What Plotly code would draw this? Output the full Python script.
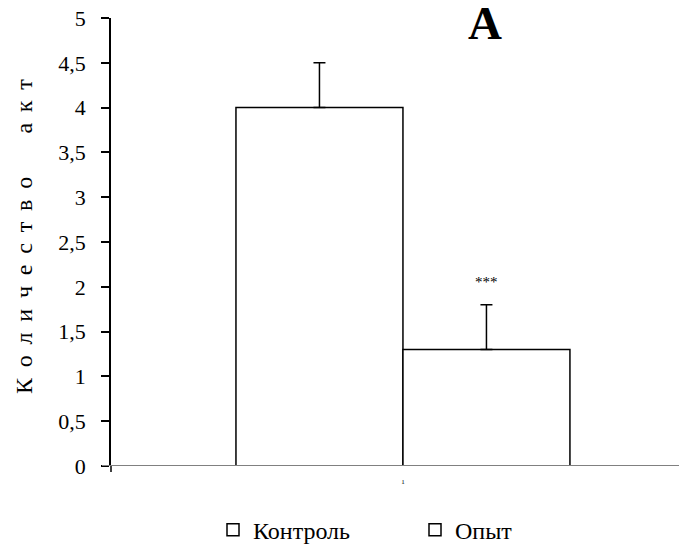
import plotly.graph_objects as go

categories = ["1"]
series_names = ["Контроль", "Опыт"]
control_values = [4.0]
experiment_values = [1.3]
control_err = [0.5]
experiment_err = [0.5]
y_ticks = [0, 0.5, 1, 1.5, 2, 2.5, 3, 3.5, 4, 4.5, 5]
y_title = "Количество  акт"
panel_label = "A"
signif_label = "***"

SERIF = "Liberation Serif"

# figure is drawn at an 8px body offset; sizes chosen to fit the window
W, H = 671, 537
L, T, R, B = 103, 10, 0, 79
PW, PH = W - L - R, H - T - B


def spaced(text, gap=" \u2009", word_gap=" \u2009 \u2009 \u2009 \u2009"):
    words = text.split()
    return word_gap.join(gap.join(list(w)) for w in words)


fig = go.Figure()
for name, vals, errs in [(series_names[0], control_values, control_err),
                         (series_names[1], experiment_values, experiment_err)]:
    fig.add_trace(go.Bar(
        x=categories, y=vals, name=name,
        marker=dict(color="white", line=dict(color="black", width=1.5)),
        error_y=dict(type="data", array=errs, arrayminus=[0] * len(errs),
                     symmetric=False, color="black", thickness=1.5, width=6),
    ))

fig.add_annotation(x=0.147, y=experiment_values[0] + experiment_err[0] + 0.25,
                   xref="x", yref="y", text=signif_label, showarrow=False,
                   font=dict(family=SERIF, size=15, color="black"))
fig.add_annotation(x=(477 - L) / PW, y=(T + PH - 15) / PH, xref="paper", yref="paper",
                   text="<b>" + panel_label + "</b>", showarrow=False, yanchor="middle",
                   font=dict(family=SERIF, size=47, color="black"))
fig.add_annotation(x=(16 - L) / PW, y=0.511, xref="paper", yref="paper",
                   text=spaced(y_title), textangle=-90, showarrow=False,
                   xanchor="center", yanchor="middle",
                   font=dict(family=SERIF, size=24, color="black"))

# x axis baseline (grey), extending left past the y axis
fig.add_shape(type="line", xref="paper", yref="y", x0=-9 / PW, x1=1, y0=0, y1=0,
              line=dict(color="#808080", width=2))
# y axis extension below zero
fig.add_shape(type="line", xref="paper", yref="paper", x0=0, x1=0, y0=0, y1=-6 / PH,
              line=dict(color="black", width=1.5))

fig.update_layout(
    width=W, height=H,
    margin=dict(l=L, r=R, t=T, b=B, autoexpand=False),
    paper_bgcolor="white", plot_bgcolor="white",
    barmode="group", bargap=0.412, bargroupgap=0,
    separators=",.",
    showlegend=True,
    legend=dict(orientation="h", x=(205 - L) / PW, y=-0.143, xanchor="left",
                yanchor="middle",
                font=dict(family=SERIF, size=24, color="black"),
                entrywidth=157, entrywidthmode="pixels",
                itemwidth=30, traceorder="normal"),
    xaxis=dict(type="category", range=[-0.514, 0.486], showline=False,
               showgrid=False, zeroline=False, ticks="", automargin=False,
               ticklabelstandoff=10,
               tickfont=dict(family=SERIF, size=7, color="black")),
    yaxis=dict(range=[0, 5], tickvals=y_ticks, showline=True, linecolor="black",
               linewidth=1.5, ticks="outside", ticklen=8, tickcolor="black",
               tickwidth=1.5, showgrid=False, zeroline=False, automargin=False,
               ticklabelstandoff=11, ticklabeloverflow="allow",
               tickfont=dict(family=SERIF, size=22, color="black")),
)

fig.write_html("out.html")
